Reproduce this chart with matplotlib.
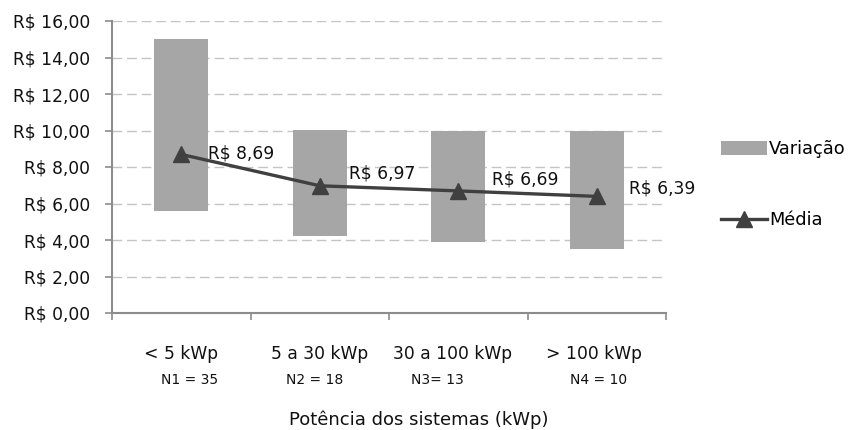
import matplotlib
matplotlib.use("Agg")
import matplotlib.pyplot as plt
from matplotlib.patches import Patch
from matplotlib.lines import Line2D

# custo por Wp por faixa de potência
categorias = ["< 5 kWp", "5 a 30 kWp", "30 a 100 kWp", "> 100 kWp"]
amostras = ["N1 = 35", "N2 = 18", "N3= 13", "N4 = 10"]
minimo = [5.6, 4.2, 3.9, 3.5]
maximo = [15.0, 10.0, 10.0, 10.0]
media = [8.69, 6.97, 6.69, 6.39]
yticks = [0, 2, 4, 6, 8, 10, 12, 14, 16]

def brl(v):
    return "R$ " + f"{v:.2f}".replace(".", ",")

plt.rcParams["font.family"] = "DejaVu Sans"

fig = plt.figure(figsize=(8.51, 4.30), dpi=100)
ax = fig.add_axes([112 / 851, 117 / 430, 554 / 851, 292 / 430])

x = range(len(categorias))
ax.bar(x, [h - l for h, l in zip(maximo, minimo)], bottom=minimo,
       width=0.39, color="#a6a6a6", zorder=2)
ax.plot(x, media, color="#404040", lw=2.4, marker="^", ms=11,
        markerfacecolor="#404040", zorder=3)

# rótulos de valor à direita de cada ponto
desloc = [(19.5, 1), (21, 9), (24, 8), (23, 6)]
for i, v in enumerate(media):
    ax.annotate(brl(v), (i, v), xytext=desloc[i], textcoords="offset points",
                ha="left", va="center", fontsize=12.3, color="#111111")

ax.set_xlim(-0.5, 3.5)
ax.set_ylim(0, 16)
ax.set_yticks(yticks)
ax.set_yticklabels([brl(v) for v in yticks], fontsize=12.3, color="#111111")
ax.yaxis.grid(True, linestyle=(0, (7, 3.5)), color="#c4c4c4", lw=1.0, zorder=0)
ax.set_axisbelow(True)

ax.set_xticks([-0.5, 0.5, 1.5, 2.5, 3.5])
ax.set_xticklabels([])
ax.tick_params(axis="both", direction="out", length=5, color="#8c8c8c", width=1.2)
ax.tick_params(axis="y", pad=11)
for s in ["top", "right"]:
    ax.spines[s].set_visible(False)
for s in ["left", "bottom"]:
    ax.spines[s].set_color("#8c8c8c")
    ax.spines[s].set_linewidth(1.5)

tr = ax.get_xaxis_transform()
desloc_cat = [0.0, 0.0, -0.04, -0.02]
desloc_n = [0.06, -0.04, -0.15, 0.01]
for i, (c, n) in enumerate(zip(categorias, amostras)):
    ax.text(i + desloc_cat[i], -0.141, c, transform=tr, ha="center", va="center",
            fontsize=12.3, color="#111111")
    ax.text(i + desloc_n[i], -0.230, n, transform=tr, ha="center", va="center",
            fontsize=10, color="#111111")
ax.text(419 / 851, 10 / 430, "Potência dos sistemas (kWp)", transform=fig.transFigure,
        ha="center", va="center", fontsize=13, color="#111111")

handles = [Patch(facecolor="#a6a6a6", edgecolor="none"),
           Line2D([], [], color="#404040", lw=2.4, marker="^", ms=11)]
fig.legend(handles, ["Variação", "Média"], loc="upper left",
           bbox_to_anchor=(712 / 851, 1 - 131 / 430), frameon=False,
           fontsize=12.8, handlelength=2.6, handleheight=0.85,
           handletextpad=0.12, labelspacing=3.0, borderpad=0)

fig.savefig("out.png", dpi=100)
